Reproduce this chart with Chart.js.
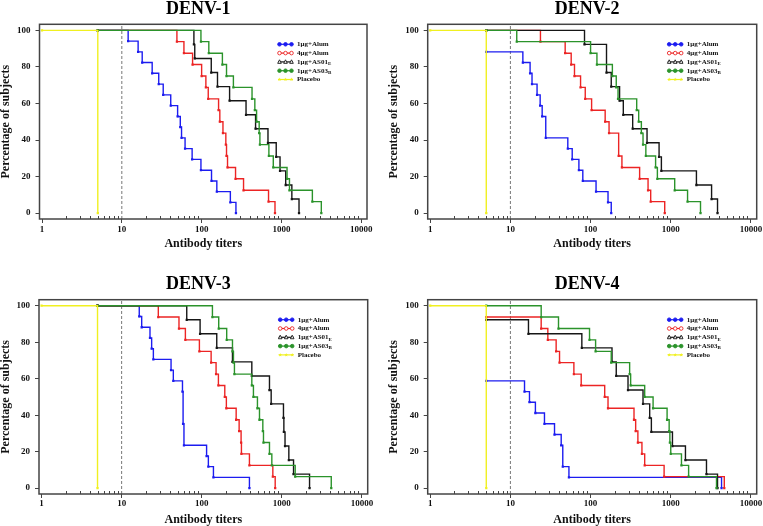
<!DOCTYPE html>
<html>
<head>
<meta charset="utf-8">
<script src="https://cdn.jsdelivr.net/npm/chart.js@4.4.1/dist/chart.umd.min.js"></script>
<style>
  html, body { margin: 0; padding: 0; background: #fff; }
  #wrap { position: relative; width: 763px; height: 526px; }
  #wrap canvas { position: absolute; }
</style>
</head>
<body>
<div id="wrap">
  <canvas id="c1" width="381" height="263" style="left:0;top:0"></canvas>
  <canvas id="c2" width="382" height="263" style="left:381px;top:0"></canvas>
  <canvas id="c3" width="381" height="263" style="left:0;top:263px"></canvas>
  <canvas id="c4" width="382" height="263" style="left:381px;top:263px"></canvas>
</div>
<script>
/* ---------- data ---------- */
const panelTitles = ['DENV-1', 'DENV-2', 'DENV-3', 'DENV-4'];
const seriesNames = ['1μg+Alum', '4μg+Alum', '1μg+AS01', '1μg+AS03', 'Placebo'];
const seriesSubs  = ['', '', 'E', 'B', ''];
const yTicks = [0, 20, 40, 60, 80, 100];
const xMajorTicks = [1, 10, 100, 1000, 10000];
const cutoffTiter = 10;

// [titer, % of subjects]
const placebo = [[1, 100], [5, 0]];

const denv1Alum1 = [[5,100],[12,94.1],[16,88.2],[18,82.4],[24,76.5],[29,70.6],[33,64.7],[41,58.8],[50,52.9],[54,47.1],[56,41.2],[62,35.3],[76,29.4],[98,23.5],[133,17.6],[155,11.8],[229,5.9],[269,0]];
const denv1Alum4 = [[5,100],[49,93.8],[60,87.5],[77,81.3],[100,75],[113,68.8],[121,62.5],[163,56.3],[169,50],[185,43.8],[201,37.5],[205,31.3],[211,25],[266,18.8],[335,12.5],[689,6.3],[830,0]];
const denv1As01  = [[5,100],[80,92.3],[82,84.6],[132,76.9],[158,69.2],[224,61.5],[360,53.8],[474,46.2],[678,38.5],[860,30.8],[960,23.1],[1130,15.4],[1350,7.7],[1660,0]];
const denv1As03  = [[5,100],[98,93.8],[123,87.5],[182,81.3],[205,75],[250,68.8],[428,62.5],[464,56.3],[488,50],[526,43.8],[537,37.5],[696,31.3],[790,25],[1175,18.8],[1260,12.5],[2440,6.3],[3160,0]];

const denv2Alum1 = [[5,88.2],[14.3,82.4],[17.6,76.5],[18.6,70.6],[21.5,64.7],[23.5,58.8],[24.9,52.9],[27.6,41.2],[52,35.3],[59,29.4],[71.5,23.5],[80,17.6],[117,11.8],[165,5.9],[181,0]];
const denv2Alum4 = [[5,100],[23.7,93.8],[48.2,87.5],[57.3,81.3],[63,75],[75,68.8],[85.8,62.5],[103,56.3],[152,50],[170,43.8],[224,31.3],[246,25],[409,18.8],[521,12.5],[562,6.3],[841,0]];
const denv2As01  = [[5,100],[84,92.3],[158,76.9],[181,69.2],[230,61.5],[256,53.8],[335,46.2],[506,38.5],[715,30.8],[764,23.1],[2090,15.4],[3230,7.7],[3830,0]];
const denv2As03  = [[5,100],[12,93.8],[100,87.5],[120,81.3],[187,75],[209,68.8],[220,62.5],[376,56.3],[398,50],[430,43.8],[451,37.5],[489,31.3],[647,25],[681,18.8],[1120,12.5],[1620,6.3],[2350,0]];

const denv3Alum1 = [[5,100],[16.6,94.1],[17.8,88.2],[22.6,82.4],[23.7,76.5],[24.9,70.6],[41.4,64.7],[44.2,58.8],[57.5,52.9],[58.5,35.3],[60,23.5],[115,17.6],[121,11.8],[140,5.9],[394,0]];
const denv3Alum4 = [[5,100],[28.7,93.8],[52,87.5],[62.5,81.3],[93.5,75],[131,68.8],[151,62.5],[161.5,56.3],[194,50],[203,43.8],[269,37.5],[293,31.3],[310,25],[313,18.8],[394,12.5],[772,6.3],[826,0]];
const denv3As01  = [[5,100],[65,92.3],[95.4,84.6],[154,76.9],[242,69.2],[422,61.5],[701,53.8],[736,46.2],[1048,38.5],[1060,30.8],[1096,23.1],[1223,15.4],[1400,7.7],[2218,0]];
const denv3As03  = [[5,100],[136,93.8],[163,87.5],[205,81.3],[242,75],[249,68.8],[256,62.5],[422,56.3],[442,50],[496,43.8],[526,37.5],[579,31.3],[590,25],[701,18.8],[750,12.5],[1468,6.3],[4140,0]];

const denv4Alum1 = [[5,58.8],[15,52.9],[17.3,47.1],[20.5,41.2],[26.6,35.3],[35.5,29.4],[43,23.5],[45,11.8],[53.7,5.9],[4300,0]];
const denv4Alum4 = [[5,93.8],[24.2,87.5],[29.3,81.3],[37.2,75],[41,68.8],[61.9,62.5],[76.4,56.3],[150,50],[165,43.8],[348,37.5],[365,31.3],[389,25],[437,18.8],[473,12.5],[826,6.3],[4650,0]];
const denv4As01  = [[5,92.3],[16.8,84.6],[77.8,76.9],[185,69.2],[209,61.5],[293,53.8],[451,46.2],[546,38.5],[573,30.8],[1050,23.1],[1525,15.4],[2790,7.7],[3830,0]];
const denv4As03  = [[5,100],[24.2,93.8],[39.8,87.5],[97,81.3],[115.5,75],[181,68.8],[307,62.5],[316,56.3],[473,50],[602,43.8],[900,37.5],[955,31.3],[975,25],[1000,18.8],[1360,12.5],[1670,6.3],[3720,0]];

const panelSeries = [
  [denv1Alum1, denv1Alum4, denv1As01, denv1As03],
  [denv2Alum1, denv2Alum4, denv2As01, denv2As03],
  [denv3Alum1, denv3Alum4, denv3As01, denv3As03],
  [denv4Alum1, denv4Alum4, denv4As01, denv4As03]
];

/* ---------- style / layout ---------- */
const FONT = "'Liberation Serif', 'Times New Roman', serif";
const seriesColors = ['#1c1cf0', '#ec2424', '#161616', '#2b932b', '#f0f020'];
const legendMarks = ['dot', 'ring', 'tri', 'dot', 'star'];
const X_MIN = 0.93, X_MAX = 11800, Y_MIN = -3.2, Y_MAX = 103.3;

const layouts = [
  { id: 'c1', w: 381, left: 39.5, right: 367,   top: 24.3, bottom: 219, titleY: 9.5,  yTitlePad: 0,   xTitlePad: 12.7, tickPad: 1 },
  { id: 'c2', w: 382, left: 46.7, right: 375.7, top: 24.3, bottom: 219, titleY: 9.5,  yTitlePad: 6.5, xTitlePad: 12.7, tickPad: 1 },
  { id: 'c3', w: 381, left: 39,   right: 367.7, top: 36.7, bottom: 231, titleY: 21,   yTitlePad: 0,   xTitlePad: 0.3,  tickPad: 0.5 },
  { id: 'c4', w: 382, left: 46.7, right: 375.7, top: 36.7, bottom: 231, titleY: 21,   yTitlePad: 6.5, xTitlePad: 0.3,  tickPad: 0.5 }
];
const H = 263;

const xMinorTicks = xMajorTicks.slice(0, -1).flatMap(m => [2,3,4,5,6,7,8,9].map(k => k * m));
const xAllTicks = [...xMajorTicks, ...xMinorTicks].sort((a, b) => a - b);

function toPoints(arr) {
  return arr.map(p => ({ x: p[0], y: p[1] }));
}

// Box frame, minor ticks, title and legend
function panelPlugin(k) {
  return {
    id: 'panelDecor' + k,
    afterDatasetsDraw(chart) {
      const { ctx, chartArea: a } = chart;
      const xs = chart.scales.x;
      ctx.save();
      ctx.strokeStyle = '#444';
      ctx.lineWidth = 1.5;
      ctx.strokeRect(a.left, a.top, a.right - a.left, a.bottom - a.top);

      ctx.lineWidth = 1;
      ctx.beginPath();
      xMinorTicks.forEach(v => {
        const px = Math.round(xs.getPixelForValue(v)) + 0.5;
        ctx.moveTo(px, a.bottom);
        ctx.lineTo(px, a.bottom - 3);
      });
      ctx.stroke();

      // title
      ctx.fillStyle = '#000';
      ctx.font = 'bold 18px ' + FONT;
      ctx.textAlign = 'center';
      ctx.textBaseline = 'middle';
      ctx.fillText(panelTitles[k], (a.left + a.right) / 2 - 5, layouts[k].titleY);

      // legend
      const x0 = a.right - 89;
      ctx.textAlign = 'left';
      seriesNames.forEach((name, i) => {
        const y = a.top + 20 + i * 8.8;
        const c = seriesColors[i];
        ctx.strokeStyle = c;
        ctx.lineWidth = 1.2;
        ctx.beginPath();
        ctx.moveTo(x0, y);
        ctx.lineTo(x0 + 15, y);
        ctx.stroke();
        [x0 + 1.5, x0 + 7.5, x0 + 13.5].forEach(mx => drawMark(ctx, legendMarks[i], mx, y, c));
        ctx.fillStyle = '#111';
        ctx.font = 'bold 7px ' + FONT;
        ctx.fillText(name, x0 + 19, y);
        if (seriesSubs[i]) {
          const tw = ctx.measureText(name).width;
          ctx.font = 'bold 5px ' + FONT;
          ctx.fillText(seriesSubs[i], x0 + 19 + tw, y + 2);
        }
      });
      ctx.restore();
    }
  };
}

function drawMark(ctx, kind, x, y, color) {
  const r = 1.8;
  ctx.save();
  ctx.lineWidth = 0.9;
  ctx.strokeStyle = color;
  ctx.fillStyle = color;
  ctx.beginPath();
  if (kind === 'dot' || kind === 'ring') {
    ctx.arc(x, y, r, 0, Math.PI * 2);
    if (kind === 'ring') { ctx.fillStyle = '#fff'; }
    ctx.fill();
    ctx.stroke();
  } else if (kind === 'tri') {
    ctx.moveTo(x, y - r - 0.3);
    ctx.lineTo(x + r, y + r * 0.8);
    ctx.lineTo(x - r, y + r * 0.8);
    ctx.closePath();
    ctx.fillStyle = '#fff';
    ctx.fill();
    ctx.stroke();
  } else {
    for (let j = 0; j < 10; j++) {
      const rr = j % 2 ? r * 0.45 : r * 1.1;
      const ang = -Math.PI / 2 + j * Math.PI / 5;
      ctx.lineTo(x + rr * Math.cos(ang), y + rr * Math.sin(ang));
    }
    ctx.closePath();
    ctx.fill();
  }
  ctx.restore();
}

function seriesDataset(data, color, label) {
  return {
    label,
    data: toPoints(data),
    borderColor: color,
    backgroundColor: color,
    borderWidth: 1.4,
    stepped: true,
    pointStyle: 'rect',
    pointRadius: 1.6,
    pointBorderWidth: 0,
    fill: false
  };
}

function buildPanel(k) {
  const L = layouts[k];
  const s = panelSeries[k];
  const tickFont = { family: FONT, size: 9, weight: 'bold' };
  const titleFont = { family: FONT, size: 12, weight: 'bold', lineHeight: 1 };

  const datasets = [
    seriesDataset(placebo, seriesColors[4], seriesNames[4]),
    seriesDataset(s[3], seriesColors[3], seriesNames[3]),
    seriesDataset(s[2], seriesColors[2], seriesNames[2]),
    seriesDataset(s[1], seriesColors[1], seriesNames[1]),
    seriesDataset(s[0], seriesColors[0], seriesNames[0]),
    {
      label: 'cutoff',
      data: [{ x: cutoffTiter, y: Y_MIN }, { x: cutoffTiter, y: Y_MAX }],
      borderColor: '#777',
      borderWidth: 1,
      borderDash: [3, 2],
      pointRadius: 0
    }
  ];

  new Chart(document.getElementById(L.id), {
    type: 'line',
    data: { datasets },
    options: {
      responsive: false,
      animation: false,
      events: [],
      layout: { padding: { left: 0, top: L.top, right: L.w - L.right, bottom: 0 } },
      plugins: { legend: { display: false }, tooltip: { enabled: false }, title: { display: false } },
      scales: {
        x: {
          type: 'logarithmic',
          min: X_MIN,
          max: X_MAX,
          afterBuildTicks: sc => { sc.ticks = xAllTicks.map(v => ({ value: v })); },
          afterFit: sc => { sc.height = H - L.bottom; sc.paddingLeft = 0; sc.paddingRight = 0; },
          ticks: {
            autoSkip: false,
            maxRotation: 0,
            padding: L.tickPad,
            color: '#111',
            font: tickFont,
            callback: v => xMajorTicks.includes(v) ? String(v) : ''
          },
          grid: {
            drawOnChartArea: false,
            drawTicks: true,
            tickLength: 4,
            tickColor: c => (c.tick && xMajorTicks.includes(c.tick.value)) ? '#444' : 'rgba(0,0,0,0)'
          },
          border: { display: false },
          title: { display: true, text: 'Antibody titers', color: '#111', font: titleFont, padding: { top: 0, bottom: L.xTitlePad } }
        },
        y: {
          min: Y_MIN,
          max: Y_MAX,
          afterBuildTicks: sc => { sc.ticks = yTicks.map(v => ({ value: v })); },
          afterFit: sc => { sc.width = L.left; sc.paddingTop = 0; sc.paddingBottom = 0; },
          ticks: { padding: 5, color: '#111', font: tickFont },
          grid: { drawOnChartArea: false, drawTicks: true, tickLength: 4, tickColor: '#444' },
          border: { display: false },
          title: { display: true, text: 'Percentage of subjects', color: '#111', font: titleFont, padding: { top: L.yTitlePad, bottom: 0 } }
        }
      }
    },
    plugins: [panelPlugin(k)]
  });
}

layouts.forEach((_, k) => buildPanel(k));
</script>
</body>
</html>
